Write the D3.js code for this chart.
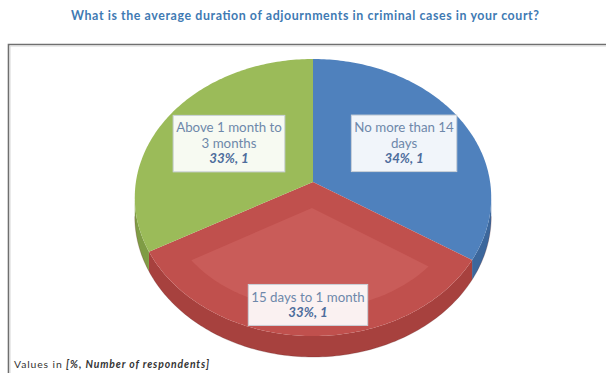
<!DOCTYPE html>
<html>
<head>
<meta charset="utf-8">
<script src="https://cdn.jsdelivr.net/npm/d3@7"></script>
<style>
  html, body { margin: 0; padding: 0; background: #ffffff; }
  svg { display: block; font-family: Lato, "Open Sans", "DejaVu Sans", sans-serif; }
</style>
</head>
<body>
<svg id="chart" width="606" height="373"></svg>
<script>
// ---- data ----
const categories = ["No more than 14 days", "15 days to 1 month", "Above 1 month to 3 months"];
const percents = [34, 33, 33];
const respondents = [1, 1, 1];
const topColors = ["#4f81bd", "#c0504d", "#9bbb59"];
const sideColors = ["#3c679c", "#a7413e", "#7f9c45"];
const titleText = "What is the average duration of adjournments in criminal cases in your court?";
const noteLead = "Values in ";
const noteUnits = "[%, Number of respondents]";

// ---- layout ----
const W = 606, H = 373;
const svg = d3.select("#chart");

// perspective disc: centre, half-axes, foreshortening and thickness
const P = { cx: 313, cy: 182, A: 177.1, B: 136.8, k: 0.112, depth: 18.6 };
const labelRadius = [0.606, 0.817, 0.569];
const wrapWidths = [112, 130, 112];
const labelFont = 13.3, lineH = 15.5;

function projUW(u, w, drop) {
  const s = 1 / (1 - P.k * w);
  return [P.cx + P.A * u * s, P.cy + (P.B * w + (drop || 0)) * s];
}
function proj(theta, r, drop) {
  return projUW(r * Math.sin(theta), -r * Math.cos(theta), drop);
}
function arcPoints(a0, a1, r, drop) {
  const n = Math.max(2, Math.ceil(Math.abs(a1 - a0) / (Math.PI / 180)));
  return d3.range(n + 1).map(i => proj(a0 + (a1 - a0) * i / n, r, drop));
}
const line = d3.line();

const pie = d3.pie().sort(null).value(d => d.pct).startAngle(0).endAngle(2 * Math.PI);
const rows = categories.map((c, i) => ({ name: c, pct: percents[i], n: respondents[i], i }));
const arcs = pie(rows);

// frame
svg.append("path")
  .attr("d", `M8.5,${H} L8.5,44.5 L${W},44.5`)
  .attr("fill", "none").attr("stroke", "#6f6f6f").attr("stroke-width", 1.6);
svg.append("path")
  .attr("d", `M10,${H} L10,46 L${W},46`)
  .attr("fill", "none").attr("stroke", "#d6d6d6").attr("stroke-width", 1);

// title
svg.append("text")
  .attr("x", 305).attr("y", 20)
  .attr("text-anchor", "middle")
  .attr("font-size", 12.4).attr("font-weight", "bold")
  .attr("fill", "#3f7ab3")
  .attr("textLength", 468).attr("lengthAdjust", "spacing")
  .text(titleText);

// side walls (front half only)
const thL = Math.PI / 2 + Math.asin(P.k), thR = 2 * Math.PI - thL;
const gSide = svg.append("g");
arcs.forEach(a => {
  const s = Math.max(a.startAngle, thL), e = Math.min(a.endAngle, thR);
  if (e <= s) return;
  const pts = arcPoints(s, e, 1, 0).concat(arcPoints(e, s, 1, P.depth));
  gSide.append("path").attr("d", line(pts) + "Z").attr("fill", sideColors[a.data.i]);
});
// darker rim line at the bottom of the wall
gSide.append("path")
  .attr("d", line(arcPoints(thL, thR, 1, P.depth)))
  .attr("fill", "none").attr("stroke", "rgba(90,30,30,0.25)").attr("stroke-width", 1);

// top faces
const gTop = svg.append("g");
arcs.forEach(a => {
  const pts = [proj(0, 0)].concat(arcPoints(a.startAngle, a.endAngle, 1, 0));
  gTop.append("path").attr("d", line(pts) + "Z").attr("fill", topColors[a.data.i]);
});

// bevel on the front slice: lighter inset face
function insetFace(a0, a1, d) {
  const half = (a1 - a0) / 2, mid = a0 + half;
  const off = d / Math.sin(half);
  const apex = [off * Math.sin(mid), -off * Math.cos(mid)];
  const hit = ang => {
    const dir = [Math.sin(ang), -Math.cos(ang)];
    const b = apex[0] * dir[0] + apex[1] * dir[1];
    const c = apex[0] * apex[0] + apex[1] * apex[1] - (1 - d) * (1 - d);
    const t = -b + Math.sqrt(b * b - c);
    const p = [apex[0] + t * dir[0], apex[1] + t * dir[1]];
    return Math.atan2(p[0], -p[1]);
  };
  let f0 = hit(a0), f1 = hit(a1);
  if (f0 < 0) f0 += 2 * Math.PI;
  if (f1 < 0) f1 += 2 * Math.PI;
  return [projUW(apex[0], apex[1])].concat(arcPoints(f0, f1, 1 - d, 0));
}
const front = arcs[1];
gTop.append("path")
  .attr("d", line(insetFace(front.startAngle, front.endAngle, 0.16)) + "Z")
  .attr("fill", "#c95c59");

// data labels
const ctx = document.createElement("canvas").getContext("2d");
function measure(txt, weight, style) {
  ctx.font = `${style || "normal"} ${weight || "normal"} ${labelFont}px Lato, "Open Sans", sans-serif`;
  return ctx.measureText(txt).width;
}
function wrap(txt, maxW) {
  const words = txt.split(" "), out = [];
  let cur = "";
  words.forEach(w => {
    const t = cur ? cur + " " + w : w;
    if (cur && measure(t) > maxW) { out.push(cur); cur = w; } else cur = t;
  });
  if (cur) out.push(cur);
  return out;
}
const gLab = svg.append("g");
arcs.forEach(a => {
  const mid = (a.startAngle + a.endAngle) / 2;
  const [x, y] = proj(mid, labelRadius[a.data.i]);
  const lines = wrap(a.data.name, wrapWidths[a.data.i]);
  const valueTxt = `${a.data.pct}%, ${a.data.n}`;
  const widths = lines.map(l => measure(l)).concat([measure(valueTxt, "bold", "italic")]);
  const bw = Math.max(...widths) + 6;
  const nLines = lines.length + 1;
  const bh = nLines * lineH + 10;
  const g = gLab.append("g").attr("transform", `translate(${x},${y})`);
  g.append("rect")
    .attr("x", -bw / 2).attr("y", -bh / 2).attr("width", bw).attr("height", bh)
    .attr("fill", "#ffffff").attr("fill-opacity", 0.92)
    .attr("stroke", "#c9d0d8").attr("stroke-width", 1);
  const y0 = -bh / 2 + 5 + lineH * 0.78;
  lines.forEach((l, j) => {
    g.append("text").attr("x", 0).attr("y", y0 + j * lineH)
      .attr("text-anchor", "middle").attr("font-size", labelFont)
      .attr("fill", "#6e88aa").text(l);
  });
  g.append("text").attr("x", 0).attr("y", y0 + lines.length * lineH)
    .attr("text-anchor", "middle").attr("font-size", labelFont)
    .attr("font-weight", "bold").attr("font-style", "italic")
    .attr("fill", "#4d6d9c").text(valueTxt);
});

// footnote
const note = svg.append("text").attr("x", 14).attr("y", 368)
  .attr("font-size", 10.4).attr("fill", "#333333")
  .attr("textLength", 195).attr("lengthAdjust", "spacing");
note.append("tspan").text(noteLead);
note.append("tspan").attr("font-weight", "bold").attr("font-style", "italic").text(noteUnits);
</script>
</body>
</html>
